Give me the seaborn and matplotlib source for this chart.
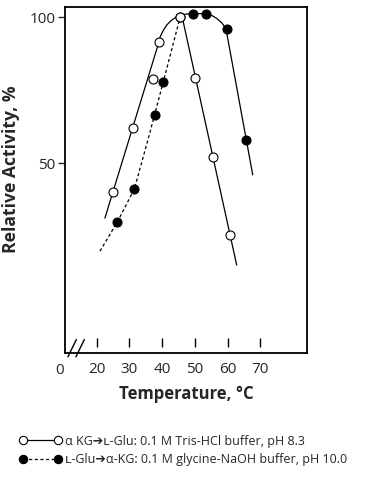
import numpy as np
import pandas as pd
import matplotlib
matplotlib.use("Agg")
import matplotlib.pyplot as plt
import seaborn as sns
from matplotlib.lines import Line2D

# ---- data ----
open_temp = [25.1, 31.1, 37.2, 39.0, 45.5, 50.2, 55.5, 60.9]
open_act = [43.5, 59.2, 74.6, 88.8, 100.0, 75.0, 51.4, 35.5]

filled_temp = [26.3, 31.5, 37.9, 40.4, 45.5, 49.5, 53.3, 59.8, 65.7]
filled_act = [37.8, 44.2, 62.9, 73.4, 100.0, 101.6, 101.6, 94.6, 55.7]

# hand-drawn fit curves
curve_a_temp = [22.5, 39.0, 39.4, 40.4, 41.4, 42.9, 44.5, 46.0, 47.5, 49.5, 53.3, 55.2, 56.7, 58.2, 59.5, 67.7]
curve_a_act = [38.5, 88.8, 91.2, 94.1, 96.4, 98.7, 100.3, 101.2, 101.6, 101.8, 101.8, 100.9, 99.5, 97.5, 94.9, 47.3]
curve_b_temp = [46.1, 62.8]
curve_b_act = [100.4, 30.8]
curve_c_temp = [21.0, 26.3, 31.5, 35.8, 40.4, 45.5]
curve_c_act = [32.9, 37.8, 44.2, 56.3, 73.8, 100.0]

x_ticks = [20, 30, 40, 50, 60, 70]
x_tick_labels = ["20", "30", "40", "50", "60", "70"]
y_ticks = [50, 100]
y_tick_labels = ["50", "100"]

label_open = "α KG➔ʟ-Glu: 0.1 M Tris-HCl buffer, pH 8.3"
label_filled = "ʟ-Glu➔α-KG: 0.1 M glycine-NaOH buffer, pH 10.0"

sns.set_style("ticks")
plt.rcParams["font.family"] = ["Open Sans", "DejaVu Sans"]

fig = plt.figure(figsize=(3.83, 4.80), dpi=100)
W, H = 383, 480
ax = fig.add_axes([65 / W, 1 - 352.7 / H, (307 - 65) / W, (352.7 - 6.7) / H])

lw = 0.9
sns.lineplot(x=curve_a_temp, y=curve_a_act, sort=False, estimator=None, ax=ax,
             color="black", lw=lw, solid_joinstyle="round")
sns.lineplot(x=curve_b_temp, y=curve_b_act, sort=False, estimator=None, ax=ax,
             color="black", lw=lw)
ax.plot(curve_c_temp, curve_c_act, color="black", lw=lw, ls=(0, (2.5, 2.0)))

sns.scatterplot(x=filled_temp, y=filled_act, ax=ax, marker="o", s=42,
                color="black", edgecolor="black", linewidth=0.8, zorder=5)
sns.scatterplot(x=open_temp, y=open_act, ax=ax, marker="o", s=42,
                color="white", edgecolor="black", linewidth=0.8, zorder=6)

ax.set_yscale("log")
ax.set_ylim(20.3, 105.2)
ax.set_xlim(10.3, 84.3)
ax.set_yticks(y_ticks)
ax.set_yticklabels(y_tick_labels)
ax.yaxis.set_minor_locator(matplotlib.ticker.NullLocator())
ax.set_xticks(x_ticks)
ax.set_xticklabels(x_tick_labels)

for s in ax.spines.values():
    s.set_linewidth(1.3)
    s.set_color("black")

ax.tick_params(axis="y", direction="out", length=5, width=1.0, labelsize=11, pad=2)
ax.tick_params(axis="x", length=0, labelsize=11, pad=7)

# floating tick marks inside the axis
ax.vlines(x_ticks, 0.017, 0.043, transform=ax.get_xaxis_transform(),
          color="black", lw=1.0)

# "0" label at the axis origin
ax.text(-0.024, -0.05, "0", transform=ax.transAxes, ha="center", va="center",
        fontsize=11)

# axis-break marks
for x0 in (0.012, 0.045):
    ax.add_line(Line2D([x0, x0 + 0.035], [-0.012, 0.038], transform=ax.transAxes,
                       color="black", lw=1.0, clip_on=False))

ax.set_xlabel("Temperature, °C", fontsize=12, fontweight="bold", labelpad=5.5)
ax.set_ylabel("Relative Activity, %", fontsize=12.6, fontweight="bold")
ax.yaxis.set_label_coords(-0.186, 0.531)

handles = [
    Line2D([], [], color="black", lw=lw, marker="o", markersize=6,
           markerfacecolor="white", markeredgecolor="black", markeredgewidth=0.8),
    Line2D([], [], color="black", lw=lw, ls=(0, (2.5, 2.0)), marker="o", markersize=6,
           markerfacecolor="black", markeredgecolor="black", markeredgewidth=0.8),
]
fig.legend(handles, [label_open, label_filled], loc="upper left",
           bbox_to_anchor=(19.5 / W, 1 - 434.5 / H), frameon=False, numpoints=2,
           handlelength=3.4, handletextpad=0.25, labelspacing=0.45, borderpad=0,
           borderaxespad=0, fontsize=9)

fig.savefig("out.png", dpi=100)
